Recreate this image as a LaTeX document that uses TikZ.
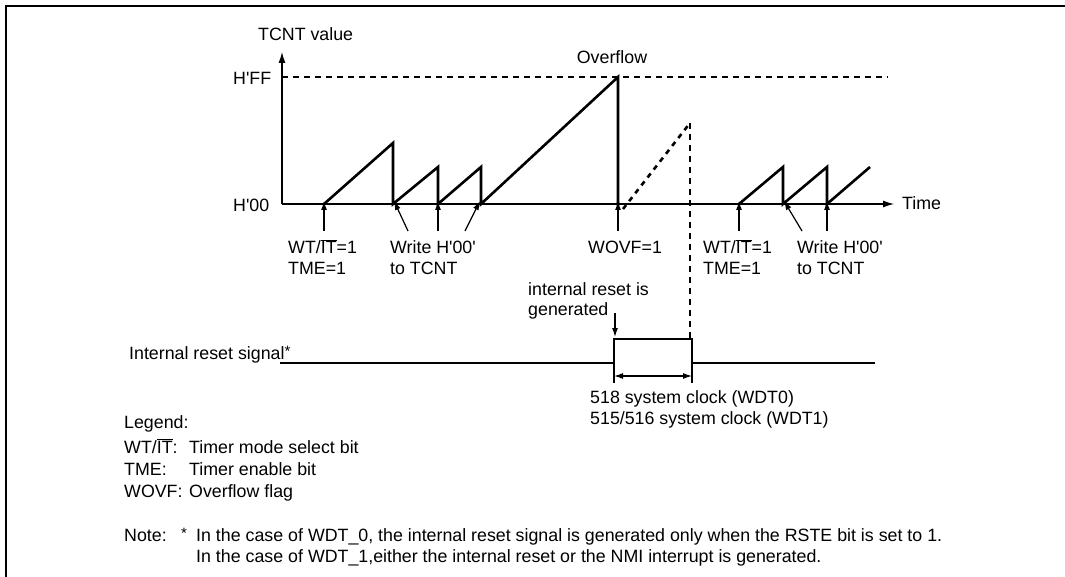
\documentclass[tikz,border=0pt]{standalone}
\usepackage{fontspec}
\setmainfont{Liberation Sans}
\usetikzlibrary{arrows.meta}
\newcommand{\ovl}[1]{$\overline{\mbox{#1}}$}
\newcommand{\myast}{\raisebox{3pt}{\fontsize{15}{15}\selectfont *}}
\newcommand{\sq}{\textquotesingle}
\begin{document}
\begin{tikzpicture}[x=1pt,y=-1pt,
  lbl/.style={font=\fontsize{17.8}{21}\selectfont, inner sep=0pt, anchor=base west},
  wave/.style={line width=2.6pt, line join=miter, line cap=butt},
  axis/.style={line width=1.2pt},
  ptr/.style={line width=1.2pt, -{Latex[length=9pt,width=6pt]}},
  thindash/.style={line width=1.2pt, dash pattern=on 6pt off 5pt},
]
\useasboundingbox (0,0) rectangle (1065,577);
% frame
\draw[line width=2pt] (6,577) -- (6,6) -- (1065,6);

% axes
\coordinate (O) at (282,204);
\coordinate (ytip) at (282,52);
\coordinate (xtip) at (894,204);
\draw[axis, -{Latex[length=11pt,width=7pt]}] (O) -- (ytip);
\draw[axis, -{Latex[length=11pt,width=7pt]}] (O) -- (xtip);
\coordinate (ff0) at (282,77);
\coordinate (ff1) at (888,77);
\draw[thindash] (ff0) -- (ff1);

% axis labels
\node[lbl] (tcnt) at (258,41) {TCNT value};
\node[lbl] (hff) at (233,85) {H\sq FF};
\node[lbl] (h00) at (233,212) {H\sq 00};
\node[lbl] (time) at (902,210) {Time};
\node[lbl, anchor=base] (ovf) at (612,64) {Overflow};

% sawtooth
\coordinate (A0) at (324,204);
\coordinate (A1) at (393,143);
\coordinate (A2) at (393,204);
\coordinate (A3) at (438,167);
\coordinate (A4) at (438,204);
\coordinate (A5) at (481,167);
\coordinate (A6) at (481,204);
\coordinate (A7) at (618,77);
\coordinate (A8) at (618,204);
\draw[wave] (A0) -- (A1) -- (A2) -- (A3) -- (A4) -- (A5) -- (A6) -- (A7) -- (A8);
\fill (A8) circle (2pt);
\coordinate (D1) at (690,123);
\draw[wave, dash pattern=on 5pt off 5pt] ([xshift=5pt,yshift=-5pt]A8) -- (D1);
\coordinate (D2) at (690,339);
\draw[thindash] (D1) -- (D2);

\coordinate (B0) at (739,204);
\coordinate (B1) at (783,167);
\coordinate (B2) at (783,204);
\coordinate (B3) at (827,167);
\coordinate (B4) at (827,204);
\coordinate (B5) at (870,167);
\draw[wave] (B0) -- (B1) -- (B2) -- (B3) -- (B4) -- (B5);

% pointer arrows
\coordinate (p1) at (324,231);
\coordinate (p2) at (408,231);
\coordinate (p3) at (438,231);
\coordinate (p4) at (465,231);
\coordinate (p5) at (618,231);
\coordinate (p6) at (739,231);
\coordinate (p7) at (802,231);
\coordinate (p8) at (827,231);
\draw[ptr] (p1) -- ([yshift=3pt]A0);
\draw[ptr] (p2) -- ([xshift=1pt,yshift=3pt]A2);
\draw[ptr] (p3) -- ([yshift=3pt]A4);
\draw[ptr] (p4) -- ([xshift=-1pt,yshift=3pt]A6);
\draw[ptr] (p5) -- ([yshift=3pt]A8);
\draw[ptr] (p6) -- ([yshift=3pt]B0);
\draw[ptr] (p7) -- ([xshift=1pt,yshift=3pt]B2);
\draw[ptr] (p8) -- ([yshift=3pt]B4);

% labels under axis
\node[lbl] (l1a) at (288,254) {WT/\ovl{IT}=1};
\node[lbl] (l1b) at (288,275) {TME=1};
\node[lbl] (l2a) at (390,254) {Write H\sq 00\sq};
\node[lbl] (l2b) at (390,275) {to TCNT};
\node[lbl] (l3) at (588,254) {WOVF=1};
\node[lbl] (l4a) at (703,254) {WT/\ovl{IT}=1};
\node[lbl] (l4b) at (703,275) {TME=1};
\node[lbl] (l5a) at (797,254) {Write H\sq 00\sq};
\node[lbl] (l5b) at (797,275) {to TCNT};

% internal reset
\node[lbl] (ir1) at (528,295) {internal reset is};
\node[lbl] (ir2) at (528,316) {generated};
\coordinate (g0) at (615,313);
\coordinate (g1) at (615,337);
\draw[ptr] (g0) -- (g1);

\node[lbl] (irs) at (129,359) {Internal reset signal\myast};
\coordinate (S0) at (280,363);
\coordinate (S1) at (614,363);
\coordinate (S2) at (614,339);
\coordinate (S3) at (692,339);
\coordinate (S4) at (692,363);
\coordinate (S5) at (875,363);
\draw[wave] (S0) -- (S1) -- (S2) -- (S3) -- (S4) -- (S5);

\coordinate (t0) at (614,383);
\coordinate (t1) at (692,383);
\draw[line width=1.2pt] (S1) -- (t0);
\draw[line width=1.2pt] (S4) -- (t1);
\coordinate (m0) at (614,376);
\coordinate (m1) at (692,376);
\draw[line width=1.2pt, {Latex[length=9pt,width=6pt]}-{Latex[length=9pt,width=6pt]}] (m0) -- (m1);
\node[lbl] (c1) at (590,403) {518 system clock (WDT0)};
\node[lbl] (c2) at (590,424) {515/516 system clock (WDT1)};

% legend
\node[lbl] (lg) at (124,428) {Legend:};
\node[lbl] (lg1a) at (124,453) {WT/\ovl{IT}:};
\node[lbl] (lg1b) at (189,453) {Timer mode select bit};
\node[lbl] (lg2a) at (124,475) {TME:};
\node[lbl] (lg2b) at (189,475) {Timer enable bit};
\node[lbl] (lg3a) at (124,497) {WOVF:};
\node[lbl] (lg3b) at (189,497) {Overflow flag};

% note
\node[lbl] (n0) at (124,541) {Note:};
\node[lbl] (n1) at (181,541) {\myast};
\node[lbl] (n2) at (196,541) {In the case of WDT\_0, the internal reset signal is generated only when the RSTE bit is set to 1.};
\node[lbl] (n3) at (196,562) {In the case of WDT\_1,either the internal reset or the NMI interrupt is generated.};
\end{tikzpicture}
\end{document}
